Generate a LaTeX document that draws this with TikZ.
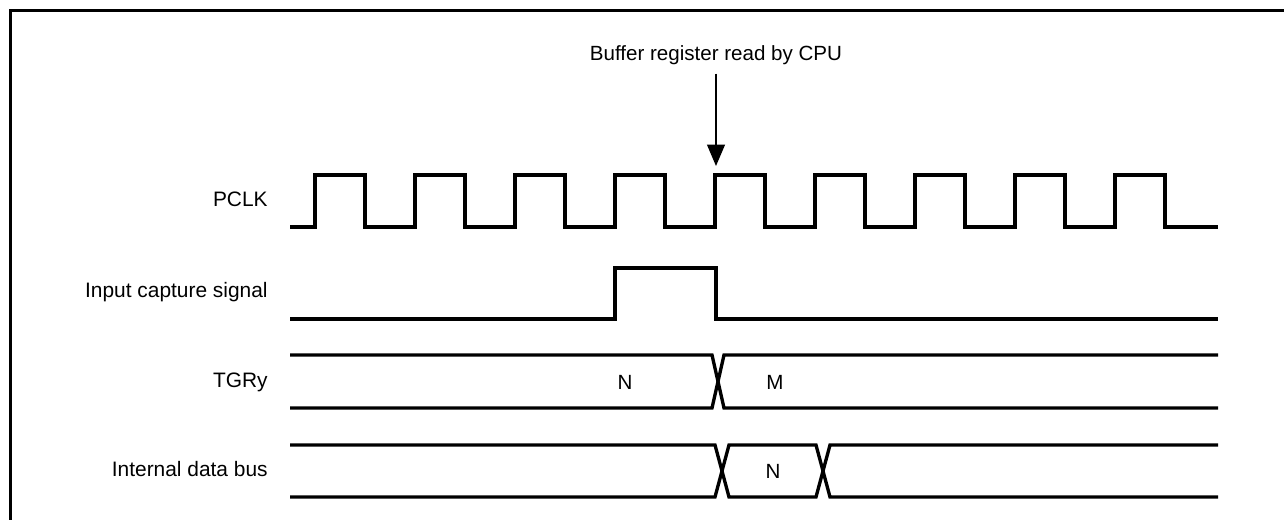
\documentclass[tikz,border=0pt]{standalone}
\usepackage{fontspec}
\setmainfont{Liberation Sans}
\usetikzlibrary{arrows.meta,positioning}
\tikzset{
  sigLine/.style={
    line width=1.9pt,
    line join=miter,
    draw=black
  },
  sigLabel/.style={
    anchor=east,
    font=\fontsize{11.9}{14}\selectfont,
    inner sep=0pt
  },
  valLabel/.style={
    font=\fontsize{11.7}{14}\selectfont,
    inner sep=0pt
  },
  evtArrow/.style={
    -{Triangle[length=4.3mm,width=3.6mm]},
    line width=0.8pt
  },
  frameLine/.style={
    line width=2pt,
    draw=black
  }
}

\begin{document}
\begin{tikzpicture}[x=0.02cm,y=-0.02cm]
  \useasboundingbox (0,0) rectangle (1284,520);
  \draw[frameLine] (10.5,520) -- (10.5,10.5) -- (1284,10.5);

  % signal names
  \node[sigLabel] (pclk) at (268,199) {PCLK};
  \node[sigLabel] (icap) at (268,292) {Input capture signal};
  \node[sigLabel] (tgr) at (268,382) {TGRy};
  \node[sigLabel] (bus) at (268,469) {Internal data bus};

  % read event
  \node[valLabel] (read) at (716,55) {Buffer register read by CPU};
  \coordinate (readAt) at (716,166);
  \draw[evtArrow] ([yshift=-5pt]read.south) -- (readAt);

  % PCLK
  \draw[sigLine] (290,227)
    foreach \x in {315,415,...,1115} { -- (\x,227) -- (\x,175) -- (\x+50,175) -- (\x+50,227) }
    -- (1218,227);

  % input capture
  \draw[sigLine] (290,319) -- (615,319) -- (615,268) -- (716,268) -- (716,319) -- (1218,319);

  % TGRy
  \draw[sigLine] (290,355) -- (712,355) -- (724,408) -- (1218,408);
  \draw[sigLine] (290,408) -- (712,408) -- (724,355) -- (1218,355);
  \node[valLabel] (tgrN) at (625,382) {N};
  \node[valLabel] (tgrM) at (775,382) {M};

  % internal data bus
  \draw[sigLine] (290,445) -- (715,445) -- (729,497) -- (816,497) -- (830,445) -- (1218,445);
  \draw[sigLine] (290,497) -- (715,497) -- (729,445) -- (816,445) -- (830,497) -- (1218,497);
  \node[valLabel] (busN) at (773,471) {N};
\end{tikzpicture}
\end{document}
